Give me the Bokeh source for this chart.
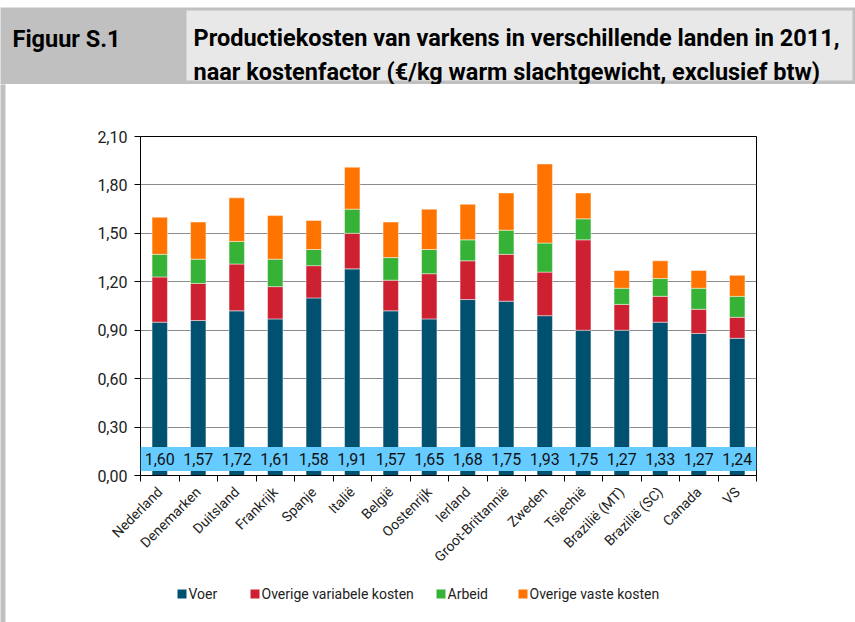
import numpy as np
from bokeh.plotting import figure
from bokeh.models import ColumnDataSource, Range1d, FixedTicker, BoxAnnotation
from bokeh.layouts import column
from bokeh.core.properties import value
from bokeh.embed import file_html
from bokeh.resources import INLINE

countries = ["Nederland", "Denemarken", "Duitsland", "Frankrijk", "Spanje", "Italië",
             "België", "Oostenrijk", "Ierland", "Groot-Brittannië", "Zweden", "Tsjechië",
             "Brazilië (MT)", "Brazilië (SC)", "Canada", "VS"]
voer =      [0.95, 0.96, 1.02, 0.97, 1.10, 1.28, 1.02, 0.97, 1.09, 1.08, 0.99, 0.90, 0.90, 0.95, 0.88, 0.85]
var_kosten = [0.28, 0.23, 0.29, 0.20, 0.20, 0.22, 0.19, 0.28, 0.24, 0.29, 0.27, 0.56, 0.16, 0.16, 0.15, 0.13]
arbeid =    [0.14, 0.15, 0.14, 0.17, 0.10, 0.15, 0.14, 0.15, 0.13, 0.15, 0.18, 0.13, 0.10, 0.11, 0.13, 0.13]
vaste =     [0.23, 0.23, 0.27, 0.27, 0.18, 0.26, 0.22, 0.25, 0.22, 0.23, 0.49, 0.16, 0.11, 0.11, 0.11, 0.13]
totals =    ["1,60", "1,57", "1,72", "1,61", "1,58", "1,91", "1,57", "1,65", "1,68", "1,75",
             "1,93", "1,75", "1,27", "1,33", "1,27", "1,24"]
series_names = ["Voer", "Overige variabele kosten", "Arbeid", "Overige vaste kosten"]
y_ticks = [0.0, 0.3, 0.6, 0.9, 1.2, 1.5, 1.8, 2.1]
y_tick_labels = ["0,00", "0,30", "0,60", "0,90", "1,20", "1,50", "1,80", "2,10"]
fig_label = "Figuur S.1"
title_lines = ["Productiekosten van varkens in verschillende landen in 2011,",
               "naar kostenfactor (€/kg warm slachtgewicht, exclusief btw)"]

colors = ["#005070", "#CD2030", "#36B336", "#FF7400"]
FONT = "Roboto"

n = len(countries)
xpos = np.arange(n, dtype=float)
source = ColumnDataSource(dict(x=xpos, voer=voer, var=var_kosten, arbeid=arbeid, vaste=vaste,
                               total=totals))

# common border structure so that the column keeps both frames aligned
BL, FW, BR = 140, 616, 99
W = BL + FW + BR
HH = 84            # header height
FT, FH, FB = 52, 339, 147   # main figure: top border, frame height, bottom border

# ---------- header ----------
h = figure(frame_width=FW, frame_height=HH, min_border_left=BL, min_border_right=BR,
           min_border_top=0, min_border_bottom=0,
           x_range=Range1d(BL, BL + FW), y_range=Range1d(0, HH),
           output_backend="svg", toolbar_location=None,
           x_axis_location=None, y_axis_location=None)
h.grid.visible = False
h.outline_line_color = None
h.background_fill_color = None
h.border_fill_color = "white"
g = h.quad(left=[0], right=[W], bottom=[0], top=[77], fill_color="#c0c0c0", line_color=None)
g.level = "overlay"
q = h.quad(left=[186], right=[852], bottom=[4], top=[74], fill_color="#e8e8e8", line_color=None)
q.level = "overlay"
t1 = h.text(x=[12], y=[46], text=[fig_label], text_font=value(FONT), text_font_style="bold",
            text_font_size="23.5px", text_baseline="alphabetic", text_color="black")
t1.level = "overlay"
t2 = h.text(x=[193, 193], y=[47, 13], text=title_lines,
            text_font=value(FONT), text_font_style="bold", text_font_size="23.5px",
            text_baseline="alphabetic", text_color="black")
t2.level = "overlay"

# ---------- main chart ----------
p = figure(frame_width=FW, frame_height=FH, min_border_left=BL, min_border_right=BR,
           min_border_top=FT, min_border_bottom=FB,
           x_range=Range1d(-0.5, n - 0.5), y_range=Range1d(0, 2.1),
           output_backend="svg", toolbar_location=None)
p.outline_line_color = "black"
p.outline_line_width = 1

# pixel-like helper ranges (page coordinates) for page decoration and the legend
p.extra_x_ranges = {"px": Range1d(BL, BL + FW)}
p.extra_y_ranges = {"px": Range1d(HH + FT + FH, HH + FT)}
rule = p.quad(left=[0], right=[5], bottom=[HH + FT + FH + FB], top=[HH],
              x_range_name="px", y_range_name="px", fill_color="#c0c0c0", line_color=None)
rule.level = "overlay"

renderers = p.vbar_stack(["voer", "var", "arbeid", "vaste"], x="x", width=0.4, color=colors,
                         line_color="white", line_alpha=0.45, line_width=1, source=source)

band = BoxAnnotation(bottom=0.028, top=0.176, fill_color="#66CCFF", fill_alpha=1.0,
                     line_alpha=0)
p.add_layout(band)
tr = p.text(x="x", y=0.102, text="total", source=source, text_align="center",
            text_baseline="middle", text_font=value(FONT), text_font_size="16px",
            text_color="#111111")
tr.level = "overlay"

# y axis
p.yaxis.ticker = FixedTicker(ticks=y_ticks)
p.yaxis.major_label_overrides = {t: s for t, s in zip(y_ticks, y_tick_labels)}
p.yaxis.major_tick_out = 6
p.yaxis.major_tick_in = 0
p.yaxis.minor_tick_out = 0
p.yaxis.minor_tick_in = 0
p.yaxis.axis_line_color = "black"
p.yaxis.major_label_text_font = FONT
p.yaxis.major_label_text_font_size = "16px"
p.yaxis.major_label_text_color = "#222222"
p.yaxis.major_label_standoff = 7

# x axis: labels at centres, ticks at category boundaries
p.xaxis.ticker = FixedTicker(ticks=list(xpos), minor_ticks=list(np.arange(n + 1) - 0.5))
p.xaxis.major_label_overrides = {float(i): c for i, c in enumerate(countries)}
p.xaxis.major_tick_out = 0
p.xaxis.major_tick_in = 0
p.xaxis.minor_tick_out = 6
p.xaxis.minor_tick_in = 0
p.xaxis.minor_tick_line_color = "black"
p.xaxis.axis_line_color = "black"
p.xaxis.major_label_orientation = np.pi / 4
p.xaxis.major_label_text_font = FONT
p.xaxis.major_label_text_font_size = "14px"
p.xaxis.major_label_text_color = "#222222"
p.xaxis.major_label_standoff = 8

p.xgrid.visible = False
p.ygrid.ticker = FixedTicker(ticks=y_ticks)
p.ygrid.grid_line_color = "#8c8c8c"
p.ygrid.grid_line_width = 1.2

# legend (drawn in page coordinates below the axis labels)
legend_x = [177, 250, 436, 518]
LEG_Y = 593.5
lq = p.quad(left=legend_x, right=[x + 9 for x in legend_x],
            bottom=[LEG_Y + 4.5] * 4, top=[LEG_Y - 4.5] * 4,
            fill_color=colors, line_color=None, x_range_name="px", y_range_name="px")
lq.level = "overlay"
lt = p.text(x=[x + 11 for x in legend_x], y=[LEG_Y] * 4, text=series_names,
            x_range_name="px", y_range_name="px", text_baseline="middle", text_align="left",
            text_font=value(FONT), text_font_size="14px", text_color="#222222")
lt.level = "overlay"

layout = column(h, p, spacing=0)
open("out.html", "w").write(file_html(layout, INLINE))
